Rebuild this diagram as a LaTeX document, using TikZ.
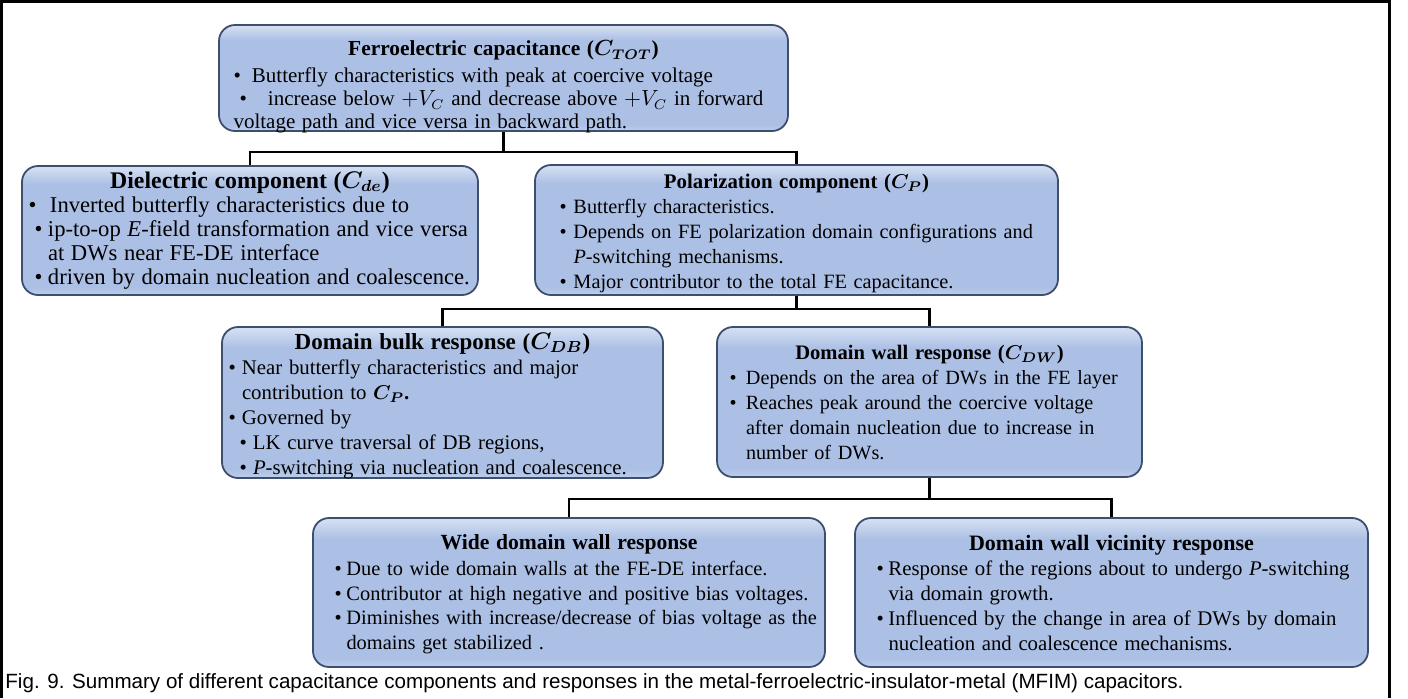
\documentclass[tikz,border=0pt]{standalone}
\usepackage{amsmath,amssymb}
\usepackage{fontspec}
\setmainfont{Liberation Serif}
\newfontfamily\capfont{Liberation Sans}
\usepackage{tikz}
\definecolor{capmid}{RGB}{172,192,229}
\definecolor{captop}{RGB}{214,225,243}
\definecolor{capbot}{RGB}{190,206,236}
\definecolor{capedge}{RGB}{62,78,110}
\pgfdeclareverticalshading{capshade}{100bp}{color(0bp)=(capbot); color(25bp)=(capbot); color(28bp)=(capmid); color(68bp)=(capmid); color(75bp)=(captop); color(100bp)=(captop)}
\newlength{\bw}\newlength{\sbw}\newlength{\shw}
\newcommand{\fs}[6]{\def\bsz{#1}\def\bsk{#2}\def\tsz{#3}\setlength{\bw}{#4}\setlength{\sbw}{#5}\setlength{\shw}{#6}}
\newcommand{\hd}[1]{{\centering\fontsize{\tsz}{\bsk}\selectfont\bfseries #1\par}}
\newcommand{\pad}[1]{\fontsize{\bsz}{\bsk}\selectfont\leftskip=#1\relax\rightskip=-15pt plus 1fil\relax}
\newcommand{\bul}{\par\hangindent=\bw\hangafter=1\noindent\makebox[\bw][l]{\textbullet}}
\newcommand{\sbul}{\par\hangindent=\shw\hangafter=1\noindent\hspace*{\sbw}\makebox[\dimexpr\shw-\sbw\relax][l]{\textbullet}}
\newcommand{\lift}[1]{\par\vspace{-#1}\nointerlineskip\null}

\begin{document}
\begin{tikzpicture}[x=0.5pt,y=-0.5pt,
  capbox/.style={draw=capedge,line width=0.9pt,rounded corners=8pt,shading=capshade,
    inner xsep=2pt,inner ysep=0pt,align=left},
  tie/.style={line width=1.3pt,black},
  frame/.style={line width=1.5pt,black}]
\useasboundingbox (0,0) rectangle (1408,698);
\draw[frame] (1,698) -- (1,1.5) -- (1389.5,1.5) -- (1389.5,698);
\node[capbox,minimum width=284.5pt,minimum height=53pt,text width=280.5pt] (tot) at (503.5,78)
  {\fs{10.5}{11.5}{10.7}{9.25pt}{3pt}{17.25pt}%
   \hd{Ferroelectric capacitance ($\boldsymbol{C_{TOT}}$)}\vspace{2pt}\pad{5.25pt}
   \bul Butterfly characteristics with peak at coercive voltage
   \sbul increase below $+V_C$ and decrease above $+V_C$ in forward
   \par\noindent voltage path and vice versa in backward path.\lift{9pt}};
\node[capbox,minimum width=228pt,minimum height=64.5pt,text width=224pt] (de) at (250,230.5)
  {\fs{11.3}{12}{11.9}{10.75pt}{3pt}{9.75pt}%
   \hd{Dielectric component ($\boldsymbol{C_{de}}$)}\pad{1.25pt}
   \bul Inverted butterfly characteristics due to
   \sbul ip-to-op \textit{E}-field transformation and vice versa\newline at DWs near FE-DE interface
   \sbul driven by domain nucleation and coalescence.\par};
\node[capbox,minimum width=261.5pt,minimum height=65pt,text width=257.5pt] (p) at (796.5,230)
  {\fs{10.15}{12.5}{10.4}{7pt}{3pt}{12pt}%
   \hd{Polarization component ($\boldsymbol{C_P}$)}\pad{10.25pt}
   \bul Butterfly characteristics.
   \bul Depends on FE polarization domain configurations and\newline \textit{P}-switching mechanisms.
   \bul Major contributor to the total FE capacitance.\lift{3pt}};
\node[capbox,minimum width=220.5pt,minimum height=75.5pt,text width=216.5pt] (db) at (442.5,402.5)
  {\fs{10.4}{12.5}{11.5}{6.75pt}{5.5pt}{12.25pt}%
   \hd{Domain bulk response ($\boldsymbol{C_{DB}}$)}\pad{1.25pt}
   \bul Near butterfly characteristics and major\newline contribution to $\boldsymbol{C_P}$\textbf{.}
   \bul Governed by
   \sbul LK curve traversal of DB regions,
   \sbul \textit{P}-switching via nucleation and coalescence.\lift{3pt}};
\node[capbox,minimum width=212.5pt,minimum height=75pt,text width=208.5pt] (dw) at (929.5,402)
  {\fs{10.1}{12.5}{10.3}{8.25pt}{3pt}{12pt}%
   \hd{Domain wall response ($\boldsymbol{C_{DW}}$)}\pad{4.25pt}
   \bul Depends on the area of DWs in the FE layer
   \bul Reaches peak around the coercive voltage\newline after domain nucleation due to increase in\newline number of DWs.\par};
\node[capbox,minimum width=256pt,minimum height=74.5pt,text width=252pt] (wdw) at (569,592.5)
  {\fs{10.2}{12.3}{10.8}{6pt}{3pt}{12pt}%
   \hd{Wide domain wall response}\vspace{1pt}\pad{8.75pt}
   \bul Due to wide domain walls at the FE-DE interface.
   \bul Contributor at high negative and positive bias voltages.
   \bul Diminishes with increase/decrease of bias voltage as the\newline domains get stabilized .\lift{1.5pt}};
\node[capbox,minimum width=256.5pt,minimum height=74.5pt,text width=252.5pt] (dwv) at (1111.5,592.5)
  {\fs{10.4}{12.5}{11}{6pt}{3pt}{12pt}%
   \hd{Domain wall vicinity response}\pad{8.75pt}
   \bul Response of the regions about to undergo \textit{P}-switching\newline via domain growth.
   \bul Influenced by the change in area of DWs by domain\newline nucleation and coalescence mechanisms.\par};
\draw[tie] (tot.south) -- ++(0,20) -| (de.north);
\draw[tie] (tot.south) -- ++(0,20) -| (p.north);
\draw[tie] (p.south) -- ++(0,13) -| (db.north);
\draw[tie] (p.south) -- ++(0,13) -| (dw.north);
\draw[tie] (dw.south) -- ++(0,21) -| (wdw.north);
\draw[tie] (dw.south) -- ++(0,21) -| (dwv.north);
\node[anchor=west,inner sep=0pt,font=\capfont\fontsize{10.3}{12}\selectfont] (cap) at (5,683)
  {Fig. 9. Summary of different capacitance components and responses in the metal-ferroelectric-insulator-metal (MFIM) capacitors.};
\end{tikzpicture}
\end{document}
